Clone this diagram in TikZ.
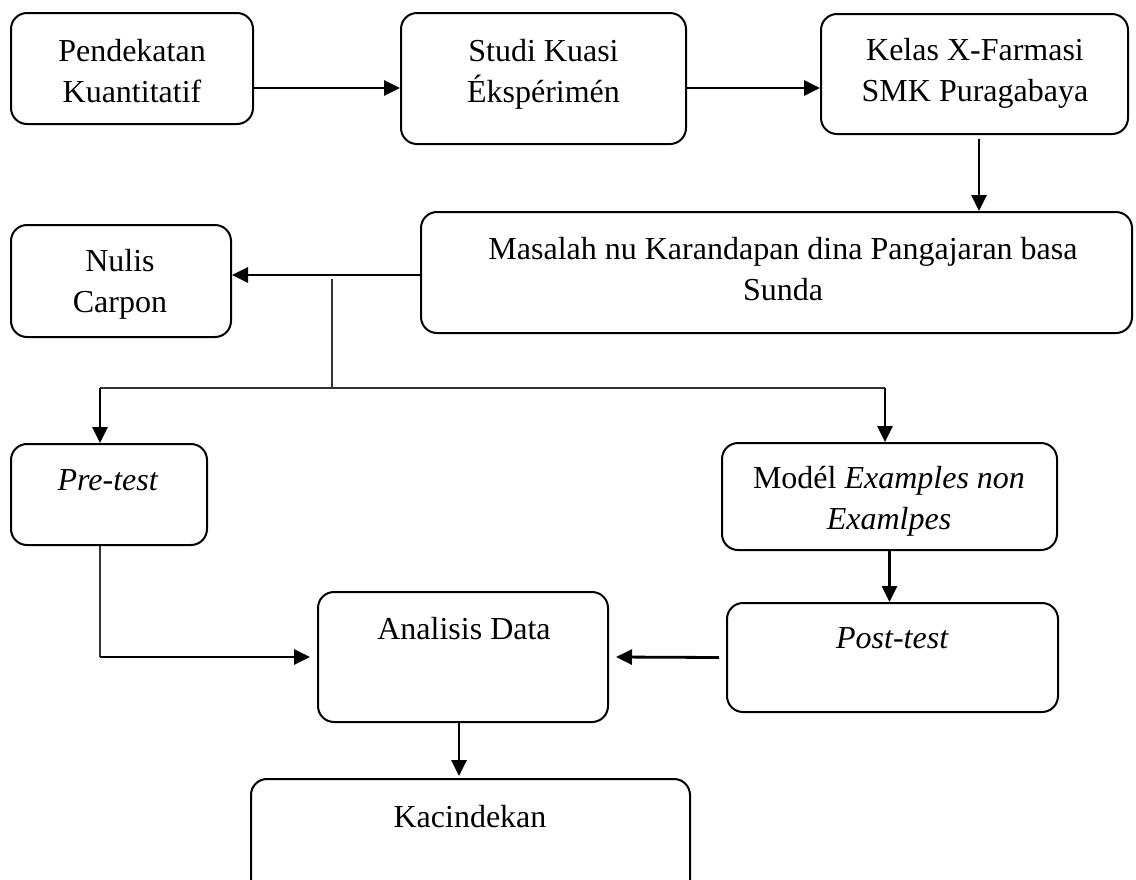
\documentclass[tikz,border=0pt]{standalone}
\usepackage{fontspec}
\setmainfont{Liberation Serif}
\usetikzlibrary{arrows.meta}
\begin{document}
\begin{tikzpicture}[x=1pt,y=-1pt,
  box/.style={draw, line width=2pt, rounded corners=16pt, inner sep=0pt},
  lbl/.style={font=\fontsize{32}{41}\selectfont, align=center, inner sep=0pt},
  arr/.style={line width=2.8pt, -{Triangle[length=16pt,width=15pt]}},
  thinline/.style={line width=1.6pt, draw=black!80}]
\useasboundingbox (0,0) rectangle (1136,879);
% boxes
\node[box, minimum width=242pt, minimum height=111pt] (b1) at (132,68.5) {};
\node[box, minimum width=285pt, minimum height=131pt] (b2) at (543.5,78.5) {};
\node[box, minimum width=307pt, minimum height=120pt] (b3) at (974.5,74) {};
\node[box, minimum width=711pt, minimum height=121pt] (b4) at (776.5,272.5) {};
\node[box, minimum width=220pt, minimum height=112pt] (b5) at (121,281) {};
\node[box, minimum width=196pt, minimum height=101pt] (b6) at (109,494.5) {};
\node[box, minimum width=335pt, minimum height=107pt] (b7) at (889.5,496.5) {};
\node[box, minimum width=331pt, minimum height=109pt] (b8) at (892.5,657.5) {};
\node[box, minimum width=290pt, minimum height=130pt] (b9) at (463,657) {};
\node[box, minimum width=439pt, minimum height=122pt] (b10) at (470.5,840) {};
% texts
\node[lbl] (t1) at (132,71) {Pendekatan\\Kuantitatif};
\node[lbl] (t2) at (543.5,74.5) {Studi Kuasi\\Ékspérimén};
\node[lbl] (t3) at (975,73) {Kelas X-Farmasi\\SMK Puragabaya};
\node[lbl] (t4) at (783,269) {Masalah nu Karandapan dina Pangajaran basa\\Sunda};
\node[lbl] (t5) at (120,284) {Nulis\\Carpon};
\node[lbl, anchor=base] (t6) at (108,490) {\textit{Pre-test}};
\node[lbl] (t7) at (889,501) {Modél \textit{Examples non}\\\textit{Examlpes}};
\node[lbl, anchor=base] (t8) at (892.5,648) {\textit{Post-test}};
\node[lbl, anchor=base] (t9) at (464,639) {Analisis Data};
\node[lbl, anchor=base] (t10) at (470,827) {Kacindekan};
% connectors
\coordinate (c1) at ([yshift=-19.5pt]b1.east);
\draw[arr] (c1) -- (c1 -| b2.west);
\coordinate (c2) at ([yshift=-9.5pt]b2.east);
\draw[arr] (c2) -- (c2 -| b3.west);
\coordinate (c3) at ([xshift=4.5pt,yshift=-4pt]b3.south);
\draw[arr] (c3) -- (c3 |- b4.north);
\coordinate (c4) at ([yshift=-2.5pt]b4.west);
\draw[arr] (c4) -- (c4 -| b5.east);
\coordinate (s0) at (332,279);
\coordinate (s1) at (332,388);
\coordinate (sL) at (100,388);
\coordinate (sR) at (885,388);
\draw[thinline] (s0) -- (s1);
\draw[thinline] (sL) -- (sR);
\draw[arr] (sL) -- (sL |- b6.north);
\draw[arr] (sR) -- (sR |- b7.north);
\coordinate (p6) at ([xshift=-9pt]b6.south);
\coordinate (q6) at (p6 |- b9.west);
\draw[thinline] (p6) -- (q6);
\draw[arr] (q6) -- ([xshift=-7pt]b9.west);
\draw[arr] ([xshift=-7pt]b8.west) -- ([xshift=7pt]b9.east);
\draw[arr] (b7.south) -- (b7.south |- b8.north);
\coordinate (c8) at ([xshift=-4pt]b9.south);
\draw[arr] (c8) -- ([yshift=2pt]c8 |- b10.north);
\end{tikzpicture}
\end{document}
